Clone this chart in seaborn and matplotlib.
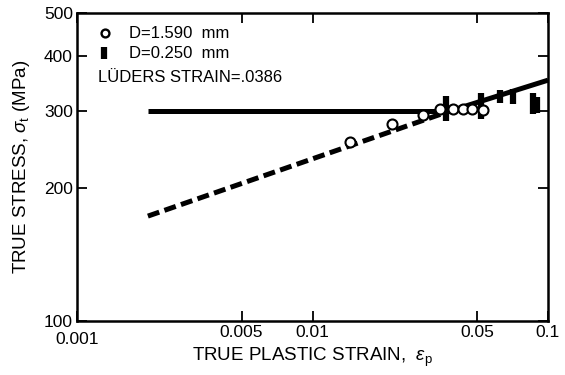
import numpy as np
import pandas as pd
import matplotlib
matplotlib.use("Agg")
import matplotlib.pyplot as plt
import seaborn as sns
from matplotlib.transforms import ScaledTranslation

# ---- data ----
circ_strain = [0.0144, 0.0218, 0.0295, 0.0348, 0.0395, 0.0436, 0.0476, 0.0530]
circ_stress = [255, 280, 294, 302, 302, 302, 302, 301]

bar_strain = [0.0369, 0.0519, 0.0625, 0.0710, 0.0863, 0.0898]
bar_low = [285, 288, 313, 311, 295, 297]
bar_high = [324, 330, 334, 337, 330, 322]

luders_strain = 0.0386
plateau_strain = [0.002, 0.0386]
plateau_stress = [300, 300]
dash_strain = [0.002, 0.0386]
dash_stress = [173, 300]
fit_strain = [0.0386, 0.1]
fit_stress = [300, 352]

xticks = [0.001, 0.005, 0.01, 0.05, 0.1]
xticklabels = ["0.001", "0.005", "0.01", "0.05", "0.1"]
yticks = [100, 200, 300, 400, 500]
yticklabels = ["100", "200", "300", "400", "500"]

sns.set_theme(style="ticks")
plt.rcParams["font.family"] = ["Liberation Sans", "DejaVu Sans"]
plt.rcParams["mathtext.fontset"] = "custom"
plt.rcParams["mathtext.rm"] = "Liberation Sans"
plt.rcParams["mathtext.it"] = "Liberation Sans:italic"
plt.rcParams["text.color"] = "black"
plt.rcParams["axes.labelcolor"] = "black"

fig = plt.figure(figsize=(5.65, 3.75), dpi=100)
ax = fig.add_axes([77 / 565, 1 - 321 / 375, 471 / 565, 308 / 375])
ax.set_xscale("log")
ax.set_yscale("log")

lw = 3.6
sns.lineplot(x=plateau_strain, y=plateau_stress, ax=ax, color="black", lw=lw,
             solid_capstyle="butt", zorder=2)
sns.lineplot(x=dash_strain, y=dash_stress, ax=ax, color="black", lw=lw,
             zorder=2, dashes=False)
ax.lines[-1].set_dashes([2.4, 1.1])
sns.lineplot(x=fit_strain, y=fit_stress, ax=ax, color="black", lw=lw,
             solid_capstyle="butt", zorder=2)

ax.vlines(bar_strain, bar_low, bar_high, colors="black", lw=4.5, zorder=3)
sns.scatterplot(x=circ_strain, y=circ_stress, ax=ax, marker="o", s=52,
                facecolor="white", edgecolor="black", linewidth=1.5, zorder=4)

ax.set_xlim(0.001, 0.1)
ax.set_ylim(100, 500)
ax.minorticks_off()
ax.set_xticks(xticks)
ax.set_xticklabels(xticklabels)
ax.set_yticks(yticks)
ax.set_yticklabels(yticklabels)
ax.tick_params(axis="both", which="major", direction="in", length=7, width=1.3,
               labelsize=12.5, color="black", labelcolor="black",
               top=True, right=True, pad=3)
ax.minorticks_off()
for s in ax.spines.values():
    s.set_linewidth(1.8)
    s.set_color("black")

# shift the 0.001 label down a little, like the original
lab0 = ax.get_xticklabels()[0]
lab0.set_transform(lab0.get_transform() + ScaledTranslation(0, -5 / 72, fig.dpi_scale_trans))

ax.set_xlabel(r"TRUE PLASTIC STRAIN,  $\epsilon_{\rm p}$", fontsize=13.5, color="black")
ax.set_ylabel(r"TRUE STRESS, $\sigma_{\rm t}$ (MPa)", fontsize=13.5, color="black")
ax.xaxis.set_label_coords(0.5, -0.08)
ax.yaxis.set_label_coords(-0.095, 0.5)

# legend / annotation
ax.scatter([0.0594], [0.935], transform=ax.transAxes, marker="o", s=32,
           facecolor="white", edgecolor="black", linewidth=1.7, zorder=5)
ax.text(0.110, 0.935, "D=1.590  mm", transform=ax.transAxes, fontsize=12,
        va="center", ha="left", color="black")
ax.plot([0.057, 0.057], [0.850, 0.890], transform=ax.transAxes, color="black",
        lw=4.5, solid_capstyle="butt")
ax.text(0.110, 0.870, "D=0.250  mm", transform=ax.transAxes, fontsize=12,
        va="center", ha="left", color="black")
ax.text(0.045, 0.792, "LÜDERS STRAIN=.0386", transform=ax.transAxes, fontsize=12,
        va="center", ha="left", color="black")

fig.savefig("out.png", dpi=100)
